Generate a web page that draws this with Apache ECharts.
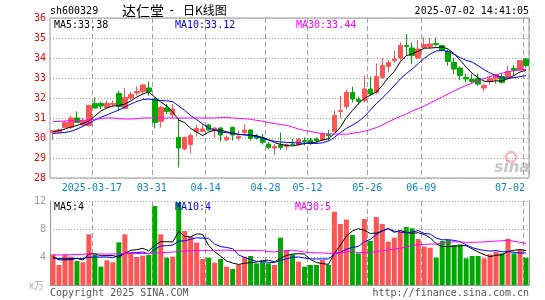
<!DOCTYPE html>
<html><head><meta charset="utf-8">
<script src="https://cdn.jsdelivr.net/npm/echarts@6/dist/echarts.min.js"></script>
<style>html,body{margin:0;padding:0;background:#fff}#c{width:545px;height:300px}</style>
</head><body><div id="c"></div>
<script>
const dates = ['2025-03-06','2025-03-07','2025-03-10','2025-03-11','2025-03-12','2025-03-13','2025-03-14','2025-03-17','2025-03-18','2025-03-19','2025-03-20','2025-03-21','2025-03-24','2025-03-25','2025-03-26','2025-03-27','2025-03-28','2025-03-31',
'2025-04-01','2025-04-02','2025-04-03','2025-04-07','2025-04-08','2025-04-09','2025-04-10','2025-04-11','2025-04-14','2025-04-15','2025-04-16','2025-04-17','2025-04-18','2025-04-21','2025-04-22','2025-04-23','2025-04-24','2025-04-25','2025-04-28','2025-04-29','2025-04-30',
'2025-05-06','2025-05-07','2025-05-08','2025-05-09','2025-05-12','2025-05-13','2025-05-14','2025-05-15','2025-05-16','2025-05-19','2025-05-20','2025-05-21','2025-05-22','2025-05-23','2025-05-26','2025-05-27','2025-05-28','2025-05-29','2025-05-30',
'2025-06-03','2025-06-04','2025-06-05','2025-06-06','2025-06-09','2025-06-10','2025-06-11','2025-06-12','2025-06-13','2025-06-16','2025-06-17','2025-06-18','2025-06-19','2025-06-20','2025-06-23','2025-06-24','2025-06-25','2025-06-26','2025-06-27','2025-06-30',
'2025-07-01','2025-07-02'];
const labelDates = ['2025-03-17','2025-03-31','2025-04-14','2025-04-28','2025-05-12','2025-05-26','2025-06-09','2025-07-02'];

const opens  = [30.27,30.3,30.53,30.53,31.0,30.65,30.62,31.72,31.72,31.53, 31.67,32.23,31.48,32.0,32.25,32.32,32.5,31.95,30.83,31.5, 31.15,30.03,29.45,29.67,30.32,30.33,30.65,30.37,30.5,29.9, 30.53,30.0,30.28,30.4,30.07,30.03,29.7,29.5,29.65,29.58, 29.7,29.67,29.87,29.9,29.95,29.9,30.17,30.33,31.33,31.57, 32.28,31.92,31.87,32.45,32.28,33.03,33.57,33.87,34.0,34.62, 34.5,34.0,34.53,34.57,34.73,34.62,34.33,33.78,33.5,33.03, 32.92,32.98,32.5,32.83,32.95,33.07,33.03,33.48,33.4,33.95];
const closes = [30.37,30.4,30.77,31.0,30.78,30.85,31.62,31.5,31.6,31.73, 31.73,31.57,32.03,32.17,32.33,32.65,32.32,30.78,31.53,31.32, 31.45,29.5,30.03,30.12,30.48,30.45,30.4,30.5,30.15,30.03, 30.15,30.07,30.4,29.98,30.0,29.78,29.53,29.58,29.53,29.67, 29.67,29.92,29.82,29.78,29.87,30.2,30.12,31.12,31.37,32.28, 31.95,31.83,32.45,32.2,33.07,33.62,33.78,33.95,34.62,34.58, 34.12,34.45,34.67,34.7,34.67,34.4,33.83,33.45,33.12,32.95, 32.83,32.7,32.62,32.98,33.15,32.78,33.32,33.4,33.87,33.62];
const lows   = [29.9,30.25,30.5,30.45,30.75,30.6,30.57,31.47,31.45,31.45, 31.55,31.37,31.45,31.9,32.13,32.2,32.12,30.48,30.53,31.2, 31.0,28.53,29.4,29.23,30.07,30.28,30.37,30.0,29.83,29.83, 29.87,29.87,30.17,29.87,29.92,29.67,29.43,29.17,29.4,29.4, 29.62,29.62,29.62,29.65,29.7,29.87,29.87,30.28,31.0,31.43, 31.78,31.67,31.78,32.12,32.2,32.95,33.28,33.78,33.87,34.12, 33.7,33.95,34.45,34.45,34.57,34.33,33.62,33.2,32.9,32.78, 32.7,32.62,32.33,32.67,32.7,32.73,32.95,33.12,33.37,33.53];
const highs  = [30.4,30.47,30.85,31.12,31.33,31.0,31.67,32.03,31.8,31.87, 31.87,32.37,32.5,32.3,32.58,32.7,32.82,32.03,31.62,31.7, 31.7,31.0,30.07,30.23,30.67,30.7,30.7,30.53,30.53,30.12, 30.57,30.37,30.7,30.43,30.2,30.2,29.78,29.7,30.28,29.73, 29.95,30.0,30.03,30.0,30.03,30.28,30.4,31.37,32.1,32.43, 32.57,32.07,33.12,33.07,33.73,34.0,33.9,34.37,34.78,35.2, 34.78,34.9,35.03,35.0,35.0,34.65,34.4,34.0,33.57,33.2, 33.2,33.23,32.7,33.07,33.2,33.2,33.62,33.65,33.9,34.0];

const ma5  = [30.32,30.37,30.45,30.55,30.63,30.72,30.86,31.1,31.35,31.5, 31.6,31.62,31.7,31.85,32.05,32.2,32.3,32.05,31.8,31.6, 31.3,30.9,30.77,30.48,30.3,30.12,30.3,30.39,30.4,30.31, 30.25,30.18,30.16,30.13,30.12,30.02,29.92,29.77,29.68,29.63, 29.6,29.66,29.72,29.76,29.8,29.9,29.96,30.22,30.54,31.02, 31.37,31.71,31.98,32.14,32.3,32.63,33.02,33.32,33.81,34.11, 34.21,34.34,34.49,34.5,34.52,34.55,34.45,34.21,33.89,33.55, 33.24,33.01,32.84,32.82,32.86,32.85,32.97,33.13,33.3,33.38];
const ma10 = [30.23,30.25,30.28,30.33,30.45,30.58,30.74,30.9,31.04,31.15, 31.28,31.4,31.55,31.7,31.83,31.92,31.95,31.9,31.88,31.86, 31.82,31.6,31.38,31.12,30.92,30.7,30.5,30.4,30.3,30.27, 30.22,30.18,30.16,30.13,30.06,29.98,29.9,29.84,29.8,29.78, 29.77,29.75,29.74,29.73,29.73,29.76,29.85,30.03,30.27,30.48, 30.64,30.82,31.07,31.4,31.72,32.0,32.3,32.62,32.95,33.22, 33.45,33.72,33.98,34.2,34.35,34.38,34.33,34.18,34.02,33.88, 33.8,33.62,33.42,33.25,33.12,33.02,32.98,33.02,33.07,33.12];
const ma30 = [30.82,30.83,30.85,30.87,30.87,30.88,30.9,30.93,30.97,31.0, 31.0,30.97,30.95,30.95,30.97,31.0,31.0,31.0,31.0,31.0, 31.0,31.0,31.0,31.0,31.0,31.0,31.0,31.0,31.02,31.03, 31.0,30.98,30.96,30.94,30.88,30.84,30.78,30.72,30.68,30.63, 30.55,30.45,30.38,30.32,30.27,30.22,30.2,30.2,30.19,30.19, 30.23,30.28,30.33,30.42,30.52,30.65,30.8,30.95,31.08,31.2, 31.35,31.47,31.6,31.75,31.9,32.05,32.2,32.35,32.5,32.62, 32.75,32.87,32.97,33.07,33.16,33.24,33.31,33.37,33.41,33.44];

const volumes = [4.38,2.86,4.29,4.05,3.43,3.24,7.24,4.38,2.62,3.52, 3.24,6.1,7.24,4.67,4.0,4.19,4.29,11.29,7.24,3.9, 4.05,11.8,7.71,6.9,6.05,3.71,3.9,3.19,3.71,2.62, 2.29,2.86,4.05,4.14,3.1,3.33,3.1,2.86,6.76,5.0, 4.38,3.33,2.62,2.86,2.86,3.57,2.86,10.48,8.71,9.35, 7.14,4.52,9.43,6.29,9.71,8.71,6.19,6.76,7.62,8.29, 8.1,6.57,5.48,5.33,3.9,6.29,6.43,5.71,5.81,3.81, 4.14,4.14,3.81,4.38,4.76,4.52,6.57,4.52,5.0,3.9];
const volMa5  = [4.05,3.6,3.6,3.62,3.8,3.57,4.45,4.47,4.18,4.2, 4.2,3.97,4.54,4.95,5.05,5.24,4.88,5.69,6.2,6.18, 6.15,7.66,6.94,6.87,7.3,7.23,5.65,4.75,4.11,3.43, 3.14,2.93,3.11,3.19,3.29,3.5,3.54,3.31,3.83,4.21, 4.42,4.47,4.42,3.64,3.21,3.05,2.95,4.53,5.7,6.99, 7.71,8.04,7.83,7.35,7.42,7.73,8.07,7.53,7.8,7.51, 7.39,7.47,7.21,6.75,5.88,5.51,5.49,5.53,5.63,5.61, 5.18,4.72,4.34,4.06,4.25,4.32,4.81,4.95,5.07,4.9];
const volMa10 = [3.8,3.8,3.8,3.8,3.78,3.8,3.95,4.0,3.98,4.0, 3.89,4.21,4.51,4.57,4.63,4.72,4.43,5.12,5.58,5.62, 5.7,6.27,6.31,6.54,6.74,6.69,6.66,5.85,5.49,5.36, 5.19,4.29,3.93,3.65,3.36,3.32,3.24,3.21,3.51,3.75, 3.96,4.0,3.86,3.73,3.71,3.73,3.71,4.47,4.67,5.1, 5.38,5.5,6.18,6.52,7.21,7.72,8.05,7.68,7.57,7.47, 7.56,7.77,7.37,7.28,6.7,6.45,6.48,6.37,6.19,5.74, 5.35,5.1,4.94,4.84,4.93,4.75,4.77,4.65,4.57,4.57];
const volMa30 = [4.3,4.3,4.32,4.33,4.35,4.38,4.45,4.45,4.42,4.42, 4.42,4.45,4.48,4.5,4.5,4.5,4.5,4.58,4.62,4.65, 4.7,4.8,4.85,4.9,4.95,4.95,4.95,4.95,4.95,4.99, 4.92,4.92,4.92,4.92,4.91,4.91,4.77,4.72,4.86,4.91, 4.95,4.86,4.7,4.64,4.6,4.58,4.53,4.51,4.56,4.74, 4.84,4.6,4.66,4.64,4.76,4.92,5.0,5.12,5.25,5.44, 5.63,5.76,5.8,5.84,5.87,5.97,6.08,6.18,6.14,6.1, 6.1,6.12,6.16,6.21,6.28,6.31,6.43,6.23,6.11,5.93];

const titleCode = 'sh600329';
const titleName = '达仁堂';
const titleDash = '-';
const titleKind = '日K线图';
const timeStamp = '2025-07-02 14:41:05';
const maLabels = ['MA5:33.38','MA10:33.12','MA30:33.44'];
const volLabels = ['MA5:4','MA10:4','MA30:5'];

const UP = '#ff5555', DOWN = '#00a800';
const MONO = 'DejaVu Sans Mono';
const GRIDC = '#a0a0a0';

const kData = opens.map((o, i) => [o, closes[i], lows[i], highs[i]]);
const volData = volumes.map((v, i) => ({ value: v, itemStyle: { color: closes[i] >= opens[i] ? UP : DOWN } }));
const isLabelDate = (idx, val) => labelDates.indexOf(val !== undefined ? val : dates[idx]) >= 0;
const splitIdx = labelDates.map(d => dates.indexOf(d));
const splitFn = (idx) => splitIdx.indexOf(idx) >= 0;

const chart = echarts.init(document.getElementById('c'), null, { renderer: 'canvas' });
const lineS = (name, data, color, xi, yi) => ({
  name, type: 'line', data, xAxisIndex: xi, yAxisIndex: yi, symbol: 'none', smooth: false,
  lineStyle: { color, width: 1 }, silent: true, animation: false, z: 5
});
const txt = (x, y, text, fill, extra) => ({ type: 'text', x, y, z: 100,
  style: Object.assign({ text, font: '10px ' + MONO, fill, verticalAlign: 'middle' }, extra || {}) });

chart.setOption({
  animation: false,
  backgroundColor: '#fff',
  grid: [
    { left: 50, top: 18, width: 479, height: 160, show: true, borderColor: '#999', borderWidth: 1, backgroundColor: 'transparent' },
    { left: 50, top: 201, width: 479, height: 84 }
  ],
  xAxis: [
    { type: 'category', gridIndex: 0, data: dates, boundaryGap: true,
      axisLine: { show: false }, axisTick: { show: false },
      axisLabel: { interval: (i, v) => isLabelDate(i, v), color: '#0b86d2', fontFamily: MONO, fontSize: 10, margin: 5,
        padding: [0, 6, 0, 0],
        formatter: (v) => v === '2025-03-17' ? v : (v === '2025-07-02' ? '{e|07-02}' : v.slice(5)),
        rich: { e: { color: '#0b86d2', fontFamily: MONO, fontSize: 10, padding: [0, 26, 0, 0] } } },
      splitLine: { show: true, interval: splitFn, lineStyle: { color: GRIDC, type: [5, 3], width: 1 } } },
    { type: 'category', gridIndex: 1, data: dates, boundaryGap: true, position: 'top',
      axisLine: { show: true, lineStyle: { color: '#999', width: 1 } }, axisTick: { show: false }, axisLabel: { show: false },
      splitLine: { show: true, interval: splitFn, lineStyle: { color: GRIDC, type: [5, 3], width: 1 } } }
  ],
  yAxis: [
    { type: 'value', gridIndex: 0, min: 28, max: 36, interval: 1,
      axisLine: { show: false }, axisTick: { show: false },
      axisLabel: { color: '#ff0000', fontFamily: MONO, fontSize: 10, margin: 4 },
      splitLine: { show: true, lineStyle: { color: GRIDC, type: [1, 2], width: 1 } } },
    { type: 'value', gridIndex: 1, min: 0, max: 12, interval: 4,
      axisLine: { show: true, lineStyle: { color: '#999', width: 1 } }, axisTick: { show: false },
      axisLabel: { color: '#999', fontFamily: MONO, fontSize: 10, margin: 4,
        formatter: (v) => v === 0 ? '{u|x万}' : String(v),
        rich: { u: { color: '#aaa', fontSize: 10, fontFamily: 'Noto Sans CJK SC', padding: [0, 2, 0, 0] } } },
      splitLine: { show: true, lineStyle: { color: GRIDC, type: [1, 2], width: 1 } } },
    { type: 'value', gridIndex: 1, min: 0, max: 12, interval: 4, position: 'right',
      axisLine: { show: true, lineStyle: { color: '#999', width: 1 } }, axisTick: { show: false },
      axisLabel: { show: false }, splitLine: { show: false } }
  ],
  series: [
    { name: 'K', type: 'candlestick', xAxisIndex: 0, yAxisIndex: 0, data: kData, barWidth: 5,
      itemStyle: { color: UP, color0: DOWN, borderColor: UP, borderColor0: DOWN, borderWidth: 1 }, z: 3 },
    lineS('MA5', ma5, '#000000', 0, 0),
    lineS('MA10', ma10, '#0000ff', 0, 0),
    lineS('MA30', ma30, '#ff00ff', 0, 0),
    { name: 'VOL', type: 'bar', xAxisIndex: 1, yAxisIndex: 1, data: volData, barWidth: 5, z: 3 },
    lineS('VMA5', volMa5, '#000000', 1, 1),
    lineS('VMA10', volMa10, '#0000ff', 1, 1),
    lineS('VMA30', volMa30, '#ff00ff', 1, 1)
  ],
  graphic: [
    txt(50, 11, titleCode, '#000'),
    txt(122, 10.5, titleName, '#000', { font: '14px "Noto Sans CJK SC"' }),
    txt(168, 10.5, titleDash, '#000', { font: '12px ' + MONO }),
    txt(183, 10.5, titleKind, '#000', { font: '12px "Noto Sans CJK SC"' }),
    txt(529, 11.5, timeStamp, '#000', { align: 'right' }),
    txt(54, 25, maLabels[0], '#000'),
    txt(175, 25, maLabels[1], '#0000ff'),
    txt(296, 25, maLabels[2], '#ff00ff'),
    txt(54, 207, volLabels[0], '#000'),
    txt(175, 207, volLabels[1], '#0000ff'),
    txt(295, 207, volLabels[2], '#ff00ff'),
    txt(50, 293, 'Copyright 2025 SINA.COM', '#555'),
    txt(529, 293, 'http://finance.sina.com.cn', '#555', { align: 'right' }),
    { type: 'circle', z: 1, shape: { cx: 511, cy: 157, r: 5 }, style: { fill: 'none', stroke: 'rgba(230,120,120,0.45)', lineWidth: 3 } },
    { type: 'text', x: 512, y: 168, z: 1, style: { text: 'sina', font: 'italic bold 15px "DejaVu Sans"', fill: 'rgba(150,150,150,0.55)', align: 'center', verticalAlign: 'middle' } }
  ]
});
</script></body></html>
